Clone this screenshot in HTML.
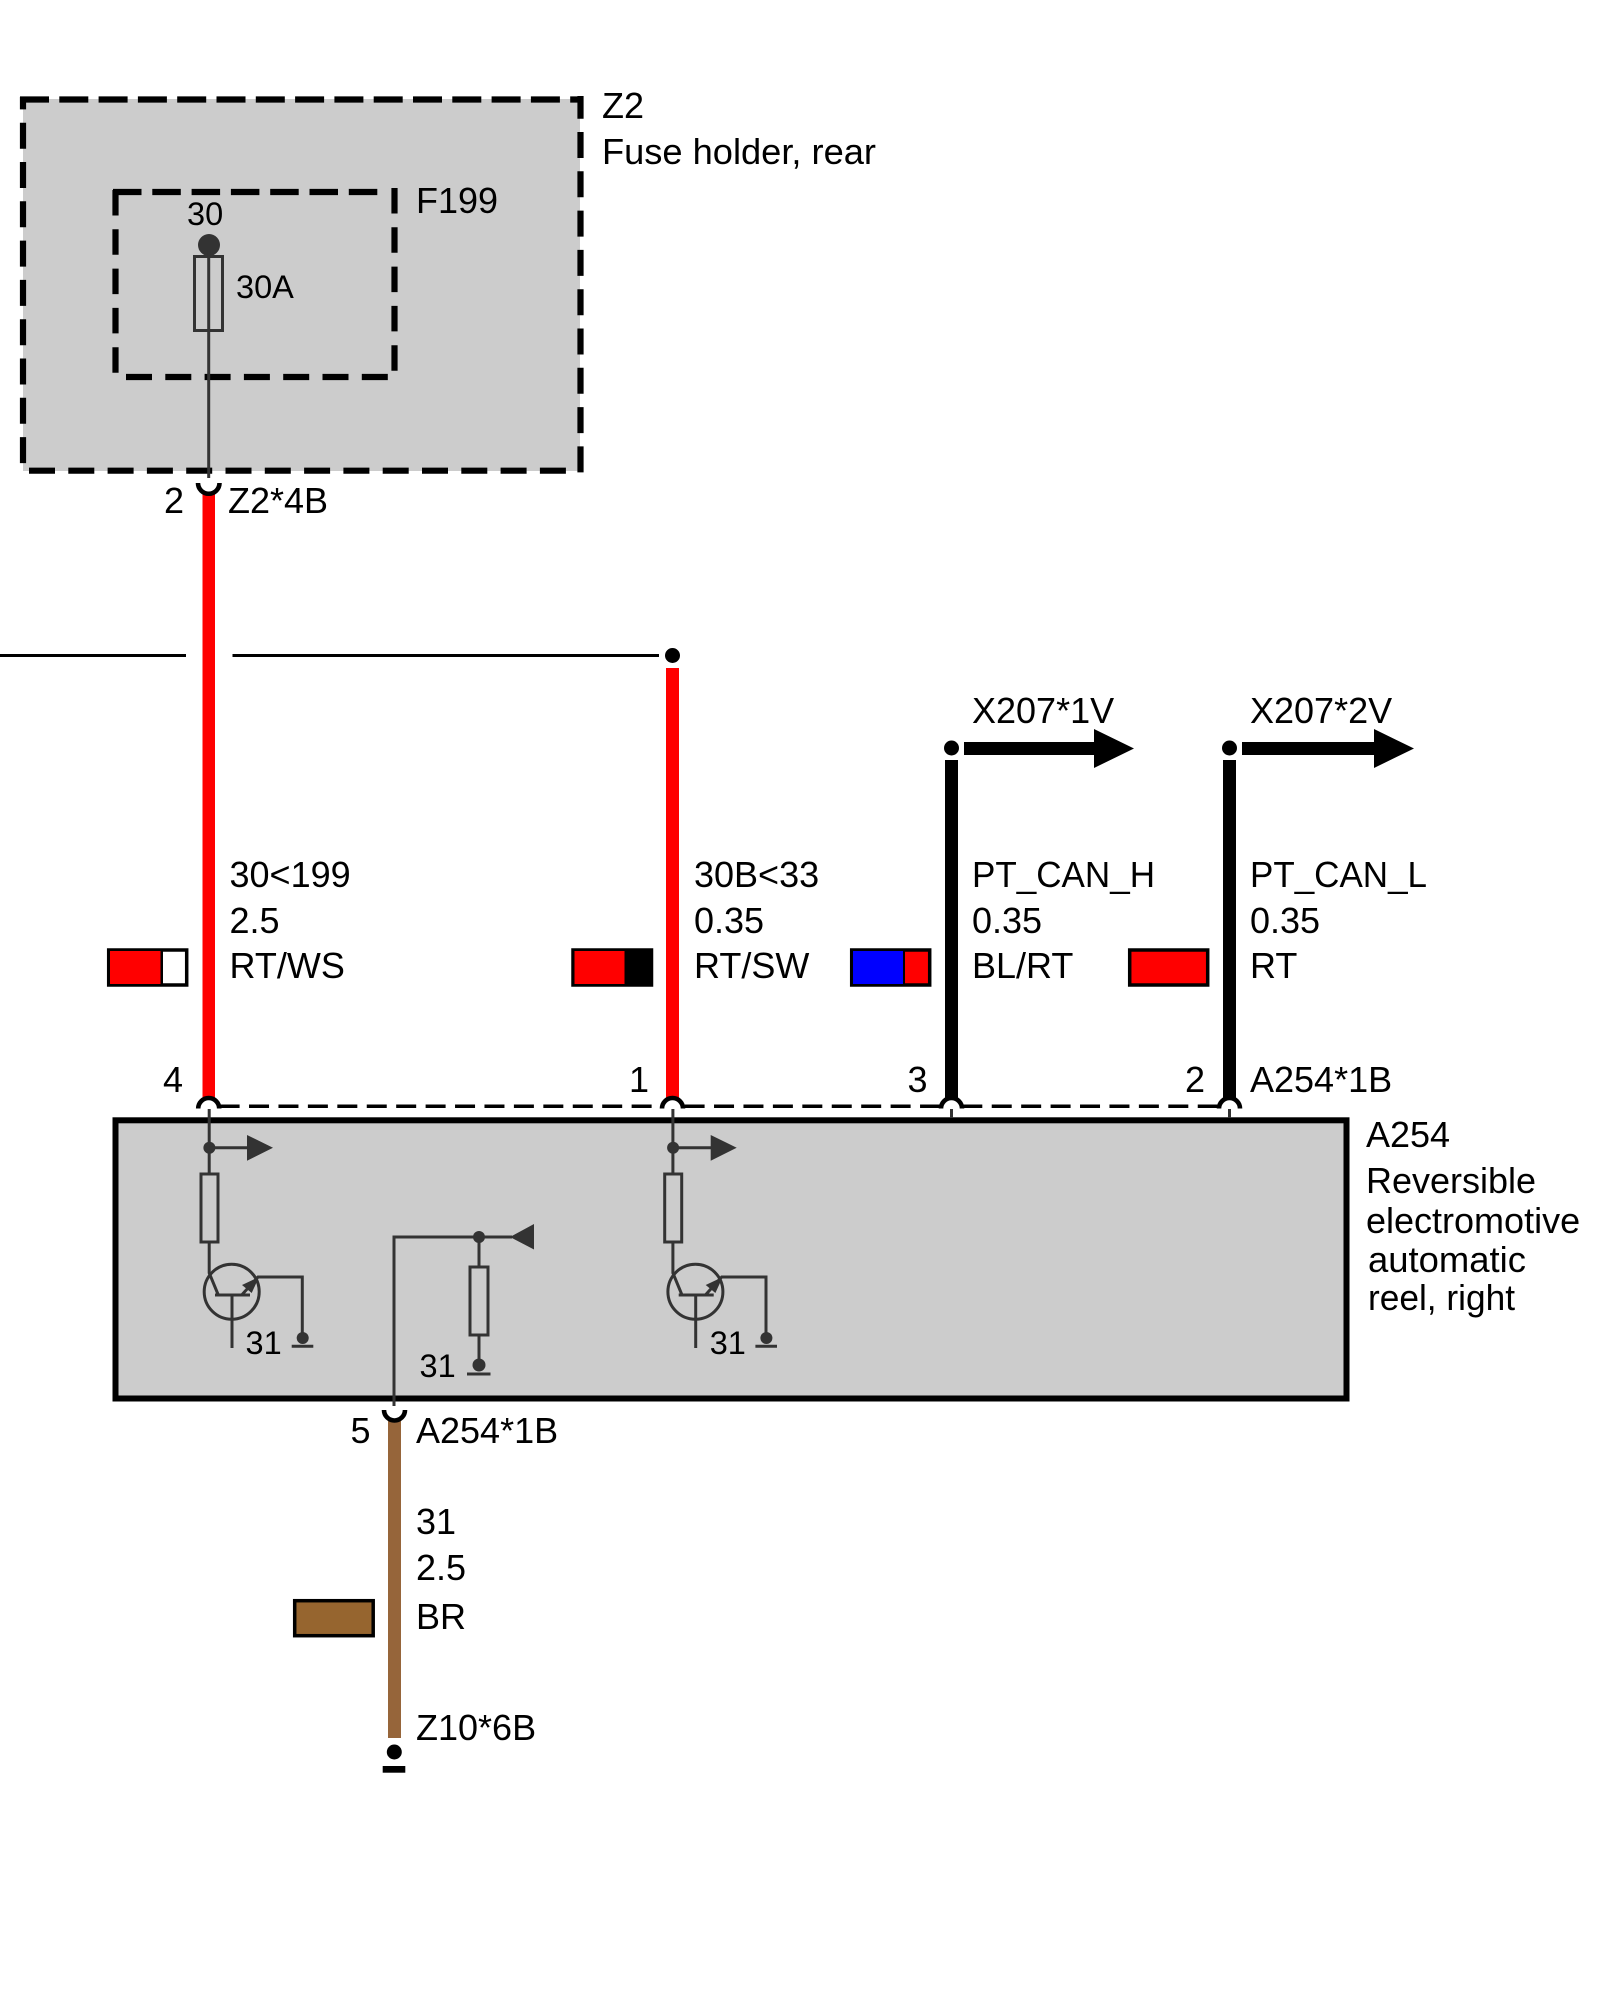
<!DOCTYPE html>
<html><head><meta charset="utf-8"><style>
html,body{margin:0;padding:0;background:#fff;width:1600px;height:2000px;overflow:hidden}
svg{display:block}
text{font-family:"Liberation Sans",Arial,sans-serif;font-size:36px;fill:#000}
.s{font-size:32.5px}
.k{fill:none;stroke:#333;stroke-width:3}
.d{fill:#333;stroke:none}
.sw{stroke:#000;stroke-width:3.5}
.arc{fill:#fff;stroke:#000;stroke-width:4.6}
</style></head><body>
<svg width="1600" height="2000" viewBox="0 0 1600 2000" xmlns="http://www.w3.org/2000/svg">
<rect width="1600" height="2000" fill="#fff"/>
<!-- Z2 outer -->
<rect x="23" y="99" width="557" height="372" fill="#ccc"/>
<g fill="none" stroke="#000" stroke-width="6.2">
<path d="M20 99.500H583" stroke-dasharray="29 10.300"/>
<path d="M23 97V465" stroke-dasharray="26 13.300" stroke-dashoffset="13.600"/>
<path d="M580.500 96V473" stroke-dasharray="26 13.300" stroke-dashoffset="3.300"/>
<path d="M29 470.700H566" stroke-dasharray="26 13.300"/>
<!-- F199 inner -->
<path d="M113 192H382" stroke-dasharray="28.500 10.800"/>
<path d="M115.500 190V375" stroke-dasharray="25.500 13.800"/>
<path d="M394.500 188V373" stroke-dasharray="25.500 13.800"/>
<path d="M126 377H388" stroke-dasharray="26 13.300"/>
</g>
<!-- fuse -->
<ellipse cx="209" cy="245" rx="11" ry="11" fill="#333"/>
<rect x="194.500" y="256.500" width="28" height="74" class="k"/>
<path d="M208.700 250V478" class="k"/>
<!-- top left wire -->
<rect x="202.500" y="494" width="12.500" height="604" fill="#f00"/>
<path d="M198 483A10.500 10.500 0 0 0 219.500 483" fill="none" stroke="#000" stroke-width="4.600"/>
<!-- horizontal thin line -->
<path d="M0 655.500H186M232.500 655.500H659" stroke="#000" stroke-width="3" fill="none"/>
<circle cx="672.500" cy="655.500" r="7.500" fill="#000"/>
<rect x="666" y="668" width="13" height="430" fill="#f00"/>
<!-- black wires -->
<rect x="945" y="760" width="13" height="338" fill="#000"/>
<rect x="1223" y="760" width="13" height="338" fill="#000"/>
<circle cx="951.500" cy="748" r="7.500" fill="#000"/>
<circle cx="1229.500" cy="748" r="7.500" fill="#000"/>
<path d="M964 742H1094V729L1134 748.500L1094 768V755H964Z" fill="#000"/>
<path d="M1242 742H1374V729L1414 748.500L1374 768V755H1242Z" fill="#000"/>
<!-- dashed connector line -->
<g fill="none" stroke="#000" stroke-width="3.500" stroke-dasharray="20 9.430">
<path d="M219.600 1106.300H662"/>
<path d="M684.600 1106.300H941"/>
<path d="M962.300 1106.300H1219"/>
</g>
<!-- arcs -->
<g>
<path d="M198.200 1108.500A10.500 10.500 0 0 1 219.200 1108.500" class="arc"/>
<path d="M662 1108.500A10.500 10.500 0 0 1 683 1108.500" class="arc"/>
<path d="M941 1108.500A10.500 10.500 0 0 1 962 1108.500" class="arc"/>
<path d="M1219 1108.500A10.500 10.500 0 0 1 1240 1108.500" class="arc"/>
</g>
<!-- A254 box -->
<rect x="115.500" y="1120.300" width="1231" height="278.200" fill="#ccc" stroke="#000" stroke-width="6"/>
<path d="M951.500 1109V1118M1229.500 1109V1118" stroke="#333" stroke-width="3"/>
<!-- left circuit -->
<g>
<path d="M209.200 1109V1173M209.200 1242V1273L218.300 1295" class="k"/>
<circle cx="209.400" cy="1147.700" r="6" class="d"/>
<path d="M209.400 1147.700H248" class="k"/>
<path d="M247 1135L273 1147.700L247 1160.700Z" class="d"/>
<rect x="201" y="1174" width="17" height="68" class="k"/>
<circle cx="231.700" cy="1291.700" r="27.500" class="k"/>
<path d="M215 1295H250" class="k"/>
<path d="M232 1295V1348" class="k"/>
<path d="M241.700 1295L258 1277H302.300V1333" class="k"/>
<path d="M259 1277L242 1285L251.700 1293Z" class="d"/>
<circle cx="302.700" cy="1338" r="6" class="d"/>
<path d="M291.700 1346.300H313.300" class="k"/>
<text class="s" x="245.500" y="1354">31</text>
</g>
<g transform="translate(463.700 0)">
<path d="M209.200 1109V1173M209.200 1242V1273L218.300 1295" class="k"/>
<circle cx="209.400" cy="1147.700" r="6" class="d"/>
<path d="M209.400 1147.700H248" class="k"/>
<path d="M247 1135L273 1147.700L247 1160.700Z" class="d"/>
<rect x="201" y="1174" width="17" height="68" class="k"/>
<circle cx="231.700" cy="1291.700" r="27.500" class="k"/>
<path d="M215 1295H250" class="k"/>
<path d="M232 1295V1348" class="k"/>
<path d="M241.700 1295L258 1277H302.300V1333" class="k"/>
<path d="M259 1277L242 1285L251.700 1293Z" class="d"/>
<circle cx="302.700" cy="1338" r="6" class="d"/>
<path d="M291.700 1346.300H313.300" class="k"/>
<text class="s" x="246" y="1354">31</text>
</g>
<!-- middle circuit -->
<path d="M394 1406V1237H512" class="k"/>
<circle cx="479" cy="1237" r="6" class="d"/>
<path d="M510 1237L534 1224V1249.500Z" class="d"/>
<path d="M479 1237V1267M479 1335V1365" class="k"/>
<rect x="470" y="1267" width="18" height="68" class="k"/>
<circle cx="479" cy="1365" r="6.500" class="d"/>
<path d="M467 1374H490.500" class="k"/>
<text class="s" x="419.500" y="1377">31</text>
<!-- bottom wire -->
<rect x="388" y="1421" width="13" height="317" fill="#96653a"/>
<path d="M384 1410A10.500 10.500 0 0 0 405 1410" fill="none" stroke="#000" stroke-width="4.600"/>
<circle cx="394.300" cy="1752" r="7.500" fill="#000"/>
<rect x="382.700" y="1766" width="22.600" height="6.700" fill="#000"/>
<!-- swatches -->
<rect x="108.700" y="950" width="78" height="35" fill="#fff" class="sw"/>
<rect x="110" y="951" width="51" height="33" fill="#f00"/><rect x="160.500" y="950" width="2.500" height="35" fill="#000"/>
<rect x="573" y="950" width="78.500" height="35" fill="#000" class="sw"/>
<rect x="574.500" y="951" width="50" height="33" fill="#f00"/>
<rect x="851.700" y="950" width="78" height="35" fill="#f00" class="sw"/>
<rect x="853" y="951" width="50.500" height="33" fill="#00f"/><rect x="903" y="950" width="2" height="35" fill="#000"/>
<rect x="1129.700" y="950" width="78" height="35" fill="#f00" class="sw"/>
<rect x="294.700" y="1600.700" width="78.500" height="35" fill="#96652f" class="sw"/>
<!-- labels -->
<text x="602" y="118">Z2</text>
<text x="602" y="164" textLength="274" lengthAdjust="spacingAndGlyphs">Fuse holder, rear</text>
<text x="416" y="213">F199</text>
<text class="s" x="187" y="225">30</text>
<text class="s" x="236" y="298">30A</text>
<text x="164" y="513">2</text>
<text x="228" y="513">Z2*4B</text>
<text x="229.500" y="887">30&lt;199</text>
<text x="229.500" y="933">2.5</text>
<text x="229.500" y="978">RT/WS</text>
<text x="694" y="887">30B&lt;33</text>
<text x="694" y="933">0.35</text>
<text x="694" y="978">RT/SW</text>
<text x="972" y="723">X207*1V</text>
<text x="1250" y="723">X207*2V</text>
<text x="972" y="887" textLength="183" lengthAdjust="spacingAndGlyphs">PT_CAN_H</text>
<text x="972" y="933">0.35</text>
<text x="972" y="978">BL/RT</text>
<text x="1250" y="887" textLength="177" lengthAdjust="spacingAndGlyphs">PT_CAN_L</text>
<text x="1250" y="933">0.35</text>
<text x="1250" y="978">RT</text>
<text x="163" y="1092">4</text>
<text x="629" y="1092">1</text>
<text x="907.500" y="1092">3</text>
<text x="1185" y="1092">2</text>
<text x="1250" y="1092">A254*1B</text>
<text x="1366" y="1147">A254</text>
<text x="1366" y="1193">Reversible</text>
<text x="1366" y="1233">electromotive</text>
<text x="1368" y="1272" textLength="158" lengthAdjust="spacingAndGlyphs">automatic</text>
<text x="1368" y="1310" textLength="147" lengthAdjust="spacingAndGlyphs">reel, right</text>
<text x="350.500" y="1443">5</text>
<text x="416" y="1443">A254*1B</text>
<text x="416" y="1534">31</text>
<text x="416" y="1580">2.5</text>
<text x="416" y="1629">BR</text>
<text x="416" y="1740">Z10*6B</text>
</svg>
</body></html>
